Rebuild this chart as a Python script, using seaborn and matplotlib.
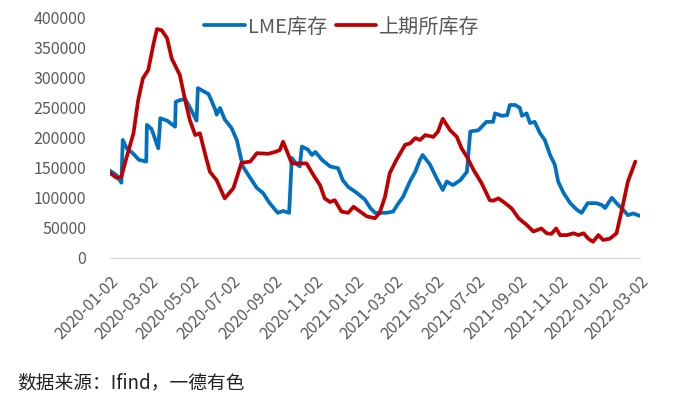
import pandas as pd
import seaborn as sns
import matplotlib.pyplot as plt

# LME inventory (tonnes)
lme_dates = [
    '2020-01-02', '2020-01-11', '2020-01-19', '2020-01-21', '2020-01-27', '2020-02-05', '2020-02-14',
    '2020-02-25', '2020-02-26', '2020-03-04', '2020-03-14', '2020-03-17', '2020-03-27', '2020-04-08',
    '2020-04-09', '2020-04-15', '2020-04-23', '2020-04-30', '2020-05-10', '2020-05-12', '2020-05-20',
    '2020-05-28', '2020-06-07', '2020-06-09', '2020-06-14', '2020-06-21', '2020-07-01', '2020-07-09',
    '2020-07-18', '2020-07-29', '2020-08-08', '2020-08-17', '2020-08-27', '2020-09-08', '2020-09-16',
    '2020-09-25', '2020-09-29', '2020-10-06', '2020-10-11', '2020-10-14', '2020-10-23', '2020-10-29',
    '2020-11-03', '2020-11-13', '2020-11-25', '2020-12-07', '2020-12-14', '2020-12-22', '2021-01-04',
    '2021-01-16', '2021-01-24', '2021-01-31', '2021-02-17', '2021-02-27', '2021-03-04', '2021-03-14',
    '2021-03-24', '2021-04-01', '2021-04-08', '2021-04-12', '2021-04-23', '2021-05-03', '2021-05-12',
    '2021-05-18', '2021-05-27', '2021-06-07', '2021-06-17', '2021-06-22', '2021-07-04', '2021-07-16',
    '2021-07-26', '2021-07-29', '2021-08-08', '2021-08-16', '2021-08-20', '2021-08-28', '2021-09-04',
    '2021-09-07', '2021-09-14', '2021-09-19', '2021-09-26', '2021-10-04', '2021-10-11', '2021-10-19',
    '2021-10-26', '2021-10-31', '2021-11-08', '2021-11-18', '2021-11-28', '2021-12-05', '2021-12-14',
    '2021-12-27', '2022-01-04', '2022-01-09', '2022-01-19', '2022-01-26', '2022-02-05', '2022-02-12',
    '2022-02-20', '2022-02-27', '2022-03-02',
]
lme_values = [
    145000, 138000, 125000, 196000, 182000, 174000, 163000,
    160000, 221000, 214000, 182000, 232000, 228000, 218000,
    259000, 262000, 264000, 250000, 228000, 282000, 277000,
    272000, 246000, 238000, 249000, 230000, 216000, 196000,
    152000, 133000, 116000, 108000, 91000, 75000, 78000,
    75000, 166000, 156000, 152000, 185000, 180000, 171000,
    176000, 163000, 152000, 149000, 129000, 118000, 108000,
    97000, 83000, 75000, 75000, 77000, 86000, 102000,
    127000, 143000, 163000, 171000, 155000, 132000, 113000,
    127000, 121000, 129000, 143000, 210000, 212000, 226000,
    226000, 240000, 236000, 237000, 254000, 254000, 249000,
    236000, 240000, 224000, 226000, 207000, 196000, 171000,
    155000, 127000, 108000, 91000, 80000, 75000, 91000,
    91000, 88000, 83000, 100000, 91000, 80000, 71000,
    74000, 71000, 70000,
]

# SHFE inventory (tonnes)
shfe_dates = [
    '2020-01-02', '2020-01-12', '2020-01-19', '2020-01-27', '2020-02-06', '2020-02-13', '2020-02-20',
    '2020-02-28', '2020-03-07', '2020-03-12', '2020-03-19', '2020-03-27', '2020-04-03', '2020-04-15',
    '2020-04-23', '2020-04-30', '2020-05-08', '2020-05-15', '2020-05-25', '2020-05-30', '2020-06-09',
    '2020-06-21', '2020-07-04', '2020-07-16', '2020-07-29', '2020-08-08', '2020-08-25', '2020-09-04',
    '2020-09-11', '2020-09-16', '2020-09-29', '2020-10-21', '2020-10-31', '2020-11-10', '2020-11-17',
    '2020-11-25', '2020-12-02', '2020-12-12', '2020-12-22', '2020-12-30', '2021-01-09', '2021-01-19',
    '2021-01-31', '2021-02-07', '2021-02-15', '2021-02-22', '2021-03-04', '2021-03-17', '2021-03-24',
    '2021-04-01', '2021-04-08', '2021-04-16', '2021-04-28', '2021-05-05', '2021-05-12', '2021-05-23',
    '2021-06-02', '2021-06-09', '2021-06-17', '2021-06-27', '2021-07-09', '2021-07-21', '2021-07-26',
    '2021-08-03', '2021-08-13', '2021-08-23', '2021-09-02', '2021-09-14', '2021-09-24', '2021-10-06',
    '2021-10-14', '2021-10-21', '2021-10-28', '2021-11-03', '2021-11-13', '2021-11-23', '2021-11-30',
    '2021-12-08', '2021-12-15', '2021-12-22', '2021-12-30', '2022-01-06', '2022-01-16', '2022-01-26',
    '2022-02-03', '2022-02-12', '2022-02-23',
]
shfe_values = [
    141000, 133000, 135000, 168000, 207000, 262000, 298000,
    312000, 356000, 380000, 378000, 365000, 331000, 304000,
    262000, 229000, 204000, 207000, 163000, 143000, 129000,
    99000, 116000, 158000, 160000, 174000, 173000, 176000,
    179000, 193000, 157000, 157000, 138000, 121000, 99000,
    93000, 96000, 77000, 75000, 85000, 77000, 69000,
    66000, 75000, 102000, 141000, 163000, 188000, 190000,
    199000, 196000, 204000, 201000, 210000, 231000, 212000,
    201000, 182000, 168000, 146000, 124000, 96000, 95000,
    99000, 91000, 82000, 66000, 55000, 44000, 49000,
    41000, 40000, 49000, 38000, 38000, 41000, 38000,
    41000, 32000, 27000, 38000, 30000, 32000, 41000,
    80000, 127000, 160000,
]

series_names = ['LME库存', '上期所库存']
series_colors = ['#0070C0', '#C00000']
tick_labels = [
    '2020-01-02', '2020-03-02', '2020-05-02', '2020-07-02', '2020-09-02', '2020-11-02', '2021-01-02',
    '2021-03-02', '2021-05-02', '2021-07-02', '2021-09-02', '2021-11-02', '2022-01-02', '2022-03-02',
]
y_ticks = list(range(0, 400001, 50000))
source_text = '数据来源：Ifind，一德有色'

df = pd.concat([
    pd.DataFrame({'date': pd.to_datetime(lme_dates), 'value': lme_values, 'series': series_names[0]}),
    pd.DataFrame({'date': pd.to_datetime(shfe_dates), 'value': shfe_values, 'series': series_names[1]}),
])

sns.set_style('white')
plt.rcParams['font.family'] = ['Noto Sans CJK SC', 'DejaVu Sans']

fig = plt.figure(figsize=(6.86, 3.96), dpi=100)
ax = fig.add_axes([110 / 686, 1 - 258 / 396, 530 / 686, 241 / 396])

sns.lineplot(data=df, x='date', y='value', hue='series', hue_order=series_names,
             palette=series_colors, linewidth=2.7, ax=ax, legend=True)

ticks = pd.to_datetime(tick_labels)
ax.set_xlim(ticks[0], ticks[-1])
ax.set_ylim(0, 400000)
ax.set_xticks(ticks)
ax.set_xticklabels(tick_labels, rotation=45, ha='right', rotation_mode='anchor')
ax.set_yticks(y_ticks)
ax.set_yticklabels([str(v) for v in y_ticks])
ax.set_xlabel('')
ax.set_ylabel('')

for side in ['left', 'top', 'right']:
    ax.spines[side].set_visible(False)
ax.spines['bottom'].set_color('#D9D9D9')
ax.spines['bottom'].set_linewidth(1)
ax.tick_params(axis='x', direction='out', length=5, color='#D9D9D9', pad=6,
               labelsize=11.5, labelcolor='#595959')
ax.tick_params(axis='y', length=0, pad=17, labelsize=11.5, labelcolor='#595959')

handles, labels = ax.get_legend_handles_labels()
ax.get_legend().remove()
fig.legend(handles, labels, loc='center', bbox_to_anchor=(342 / 686, 1 - 27 / 396), ncol=2,
           frameon=False, fontsize=14.5, labelcolor='#595959', handlelength=2.0,
           handletextpad=0.15, columnspacing=0.45)

fig.text(17 / 686, 1 - 383 / 396, source_text, fontsize=13.5, color='#222222', va='center', ha='left')

fig.savefig('out.png', dpi=100)
